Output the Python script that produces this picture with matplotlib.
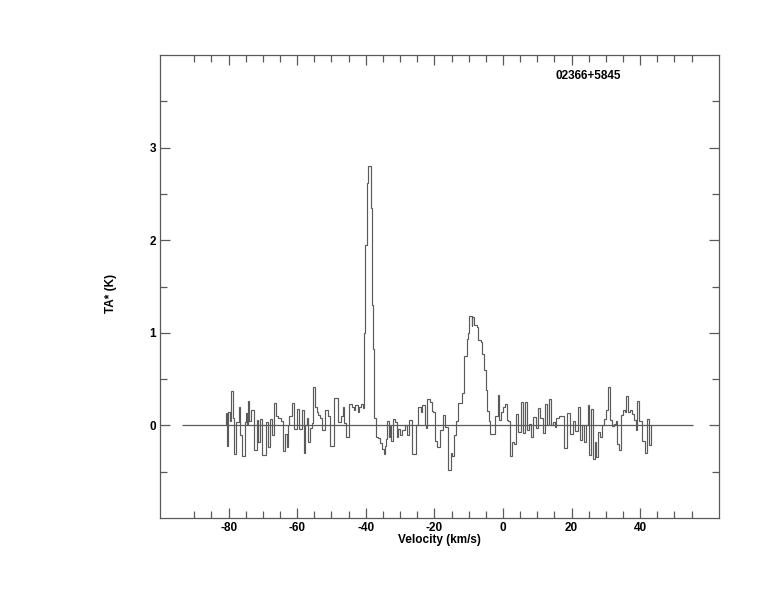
import matplotlib
matplotlib.use("Agg")
import matplotlib.pyplot as plt
import numpy as np

# channel edges (km/s) and antenna temperature (K)
edges = [-80.7, -80.4, -80.2, -79.5, -79.3, -78.8, -78.5, -77.7, -77.1, -76.7,
         -76.1, -75.2, -75.0, -74.6, -74.4, -74.0, -73.4, -72.6, -71.7, -71.3,
         -70.8, -70.2, -69.1, -68.5, -68.0, -67.4, -66.7, -66.1, -65.5, -64.8,
         -64.1, -63.6, -63.1, -62.7, -62.3, -61.4, -60.9, -60.1, -59.5, -58.6,
         -58.0, -57.6, -57.1, -56.7, -56.2, -55.7, -55.3, -54.8, -54.2, -53.8,
         -53.4, -52.7, -52.0, -51.1, -50.5, -49.2, -48.2, -47.6, -47.1, -46.7,
         -46.4, -45.8, -44.9, -44.1, -43.5, -43.0, -42.4, -41.9, -41.5, -40.9,
         -40.4, -40.1, -39.7, -39.3, -38.6, -38.3, -37.8, -37.5, -37.0, -36.4,
         -35.8, -35.3, -34.8, -34.4, -34.0, -33.7, -33.3, -32.9, -32.5, -32.0,
         -31.5, -31.0, -30.5, -30.0, -29.3, -28.6, -28.0, -27.5, -26.5, -25.4,
         -24.8, -24.0, -23.5, -22.8, -22.4, -22.0, -21.3, -20.8, -20.3, -19.7,
         -19.2, -18.4, -17.6, -16.8, -16.0, -15.2, -14.8, -14.4, -13.8, -13.0,
         -12.0, -11.3, -10.6, -10.1, -9.8, -9.1, -8.9, -8.3, -7.7, -7.3,
         -6.4, -6.0, -5.6, -5.0, -4.6, -4.2, -3.8, -2.4, -1.5, -1.1,
         -0.5, 0.0, 0.5, 1.1, 1.6, 2.0, 2.5, 3.1, 3.9, 4.5,
         5.4, 5.8, 6.5, 7.0, 7.6, 8.3, 8.9, 9.6, 10.3, 10.9,
         11.6, 12.2, 12.8, 13.5, 14.1, 14.7, 15.1, 15.6, 16.4, 17.7,
         18.8, 19.6, 20.4, 21.0, 21.8, 22.4, 23.0, 23.7, 24.3, 24.8,
         25.2, 25.7, 26.2, 26.7, 27.0, 27.8, 28.4, 28.9, 29.5, 30.0,
         30.7, 31.2, 31.7, 32.3, 32.9, 33.3, 33.9, 34.4, 34.9, 35.6,
         36.0, 36.4, 37.0, 37.5, 38.2, 38.7, 39.2, 39.7, 40.5, 41.4,
         42.1, 42.5, 43.2]
temps = [0.13, -0.22, 0.14, 0.05, 0.37, 0.08, -0.31, 0.04, 0.20, -0.10,
         -0.33, 0.04, 0.13, 0.00, 0.26, 0.05, 0.17, -0.27, 0.06, -0.18,
         0.07, -0.32, 0.04, -0.23, 0.07, -0.10, 0.24, 0.10, 0.08, 0.05,
         -0.28, -0.09, -0.23, 0.00, 0.10, 0.24, -0.04, 0.18, -0.04, 0.17,
         -0.30, 0.00, 0.08, -0.18, -0.03, 0.03, 0.41, 0.20, 0.15, 0.11,
         0.08, -0.05, 0.17, 0.10, -0.22, 0.30, 0.04, 0.04, 0.10, 0.20,
         0.03, -0.13, 0.23, 0.20, 0.17, 0.22, 0.15, 0.20, 0.23, 0.19,
         1.00, 1.95, 2.62, 2.80, 2.35, 1.30, 0.82, 0.08, -0.12, -0.14,
         -0.19, -0.25, -0.31, -0.22, -0.15, 0.05, -0.13, -0.01, -0.17, 0.07,
         0.04, -0.12, -0.04, -0.10, -0.05, 0.00, -0.10, 0.06, -0.31, 0.00,
         0.20, 0.15, 0.22, 0.00, -0.03, 0.28, 0.25, 0.16, 0.15, -0.17,
         -0.23, -0.05, 0.11, -0.02, -0.48, -0.30, -0.33, -0.10, 0.05, 0.24,
         0.35, 0.75, 0.93, 1.00, 1.18, 1.07, 1.17, 1.08, 1.06, 0.92,
         0.90, 0.77, 0.60, 0.38, 0.16, 0.05, -0.09, 0.10, 0.33, 0.06,
         0.14, 0.20, 0.23, 0.06, 0.05, -0.33, -0.18, -0.20, 0.12, -0.07,
         0.25, -0.08, 0.25, -0.05, 0.02, -0.12, 0.09, -0.03, 0.19, 0.08,
         -0.08, 0.23, 0.00, 0.28, 0.00, 0.04, -0.02, 0.08, 0.10, -0.24,
         0.13, -0.09, 0.05, -0.06, 0.20, -0.16, 0.00, -0.18, 0.00, 0.22,
         -0.32, 0.18, -0.36, -0.18, -0.34, -0.07, -0.12, 0.00, 0.07, 0.17,
         0.42, 0.06, -0.01, 0.01, 0.05, -0.20, -0.27, 0.11, 0.17, 0.14,
         0.32, 0.14, 0.17, 0.12, 0.06, -0.05, 0.26, 0.05, -0.17, -0.30,
         0.07, -0.21]
baseline_range = (-93.5, 55.5)
source_name = "02366+5845"

gray = "#5a5a5a"
plt.rcParams["font.family"] = ["Liberation Sans", "DejaVu Sans"]
plt.rcParams["font.weight"] = "bold"
plt.rcParams["axes.unicode_minus"] = False

fig = plt.figure(figsize=(7.74, 6.12), dpi=100)
ax = fig.add_axes([160 / 774, 1 - 518 / 612, 559 / 774, 463 / 612])

ax.stairs(temps, edges, color=gray, linewidth=0.85)
ax.hlines(0, *baseline_range, color=gray, linewidth=0.9)

ax.set_xlim(-100, 63)
ax.set_ylim(-1, 4)
ax.set_xticks(np.arange(-80, 41, 20))
ax.set_xticks([v for v in range(-90, 56, 5) if v % 20], minor=True)
ax.set_yticks([0, 1, 2, 3])
ax.set_yticks([-0.5, 0.5, 1.5, 2.5, 3.5], minor=True)

ax.tick_params(which="both", direction="in", top=True, right=True,
               color=gray, labelsize=8.5, width=0.9)
ax.tick_params(which="major", length=7.5)
ax.tick_params(which="minor", length=5)
ax.tick_params(axis="x", pad=3)
ax.tick_params(axis="y", pad=3)
for lbl in ax.get_xticklabels() + ax.get_yticklabels():
    lbl.set_fontweight("bold")
for sp in ax.spines.values():
    sp.set_color(gray)
    sp.set_linewidth(0.9)

ax.set_xlabel("Velocity (km/s)", fontsize=8.5, fontweight="bold", labelpad=0)
ax.set_ylabel("TA* (K)", fontsize=8.5, fontweight="bold")
ax.yaxis.set_label_coords(-0.077, 0.486)
ax.text(0.766, 0.955, source_name, transform=ax.transAxes, ha="center",
        va="center", fontsize=8.5, fontweight="bold")

fig.savefig("out.png", dpi=100)
